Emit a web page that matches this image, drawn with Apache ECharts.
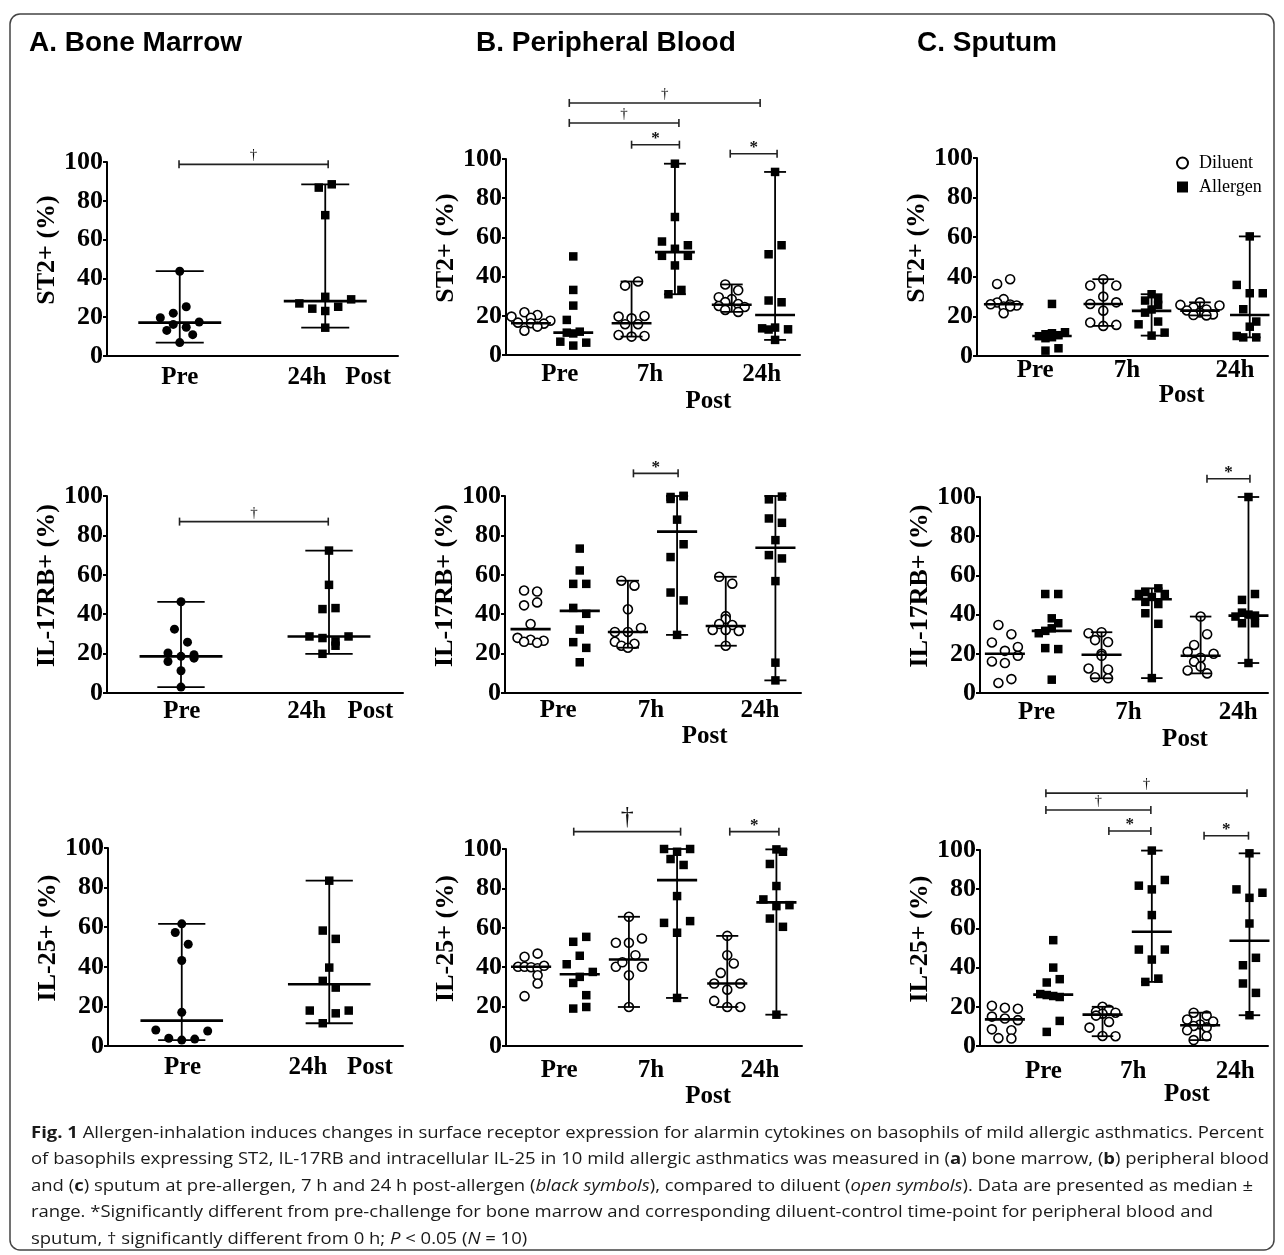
<!DOCTYPE html>
<html><head><meta charset="utf-8">
<script src="https://cdn.jsdelivr.net/npm/echarts@6/dist/echarts.min.js"></script>
<style>html,body{margin:0;padding:0;background:#fff}#c{width:1284px;height:1255px}</style>
</head><body><div id="c"></div>
<script>
// ---------- categories / tick labels ----------
const catA = ['Pre', '24h', 'Post'];
const catBC = ['Pre', '7h', '24h', 'Post'];
const yTicks = [0, 20, 40, 60, 80, 100];
const legendNames = ['Diluent', 'Allergen'];

// ---------- A. Bone marrow ----------
const bmST2Values = [[43.7, 19.7, 22.1, 25.4, 17.5, 16.3, 14.8, 13.2, 11.0, 6.9],
                     [88.5, 86.8, 72.6, 30.5, 27.1, 29.2, 24.4, 25.4, 23.2, 14.6]];
const bmST2Jitter = [[0, -3, -1, 1, 3, -1, 1, -2, 2, 0], [1, -1, 0, 0, -4, 4, -2, 2, 0, 0]];
const bmST2Median = [17.2, 28.3];
const bmST2Range = [[6.9, 43.7], [14.6, 88.5]];
const bmST2Sig = [[0.99, 3.04, 98.8, '†']];

const bmRBValues = [[46.3, 32.4, 25.8, 20.3, 18.6, 19.4, 16.0, 17.7, 11.3, 3.0],
                    [72.3, 54.9, 42.6, 43.1, 28.7, 27.9, 28.7, 26.2, 24.0, 19.9]];
const bmRBJitter = [[0, -1, 1, -2, 0, 2, -2, 2, 0, 0], [0, 0, -1, 1, -3, -1, 3, 1, 1, -1]];
const bmRBMedian = [18.6, 28.7];
const bmRBRange = [[3.0, 46.3], [19.9, 72.3]];
const bmRBSig = [[0.98, 2.99, 87, '†']];

const bm25Values = [[61.7, 57.3, 51.4, 43.2, 17.0, 8.1, 7.6, 3.9, 3.0, 3.5],
                    [83.5, 58.3, 54.1, 39.6, 32.9, 29.5, 17.9, 17.9, 16.5, 11.5]];
const bm25Jitter = [[0, -1, 1, 0, 0, -4, 4, -2, 0, 2], [0, -1, 1, 0, -1, 1, -3, 3, 1, -1]];
const bm25Median = [12.8, 31.2];
const bm25Range = [[3.0, 61.7], [11.5, 83.5]];
const bm25Sig = [];

// ---------- B. Peripheral blood (groups: Pre-D, Pre-A, 7h-D, 7h-A, 24h-D, 24h-A) ----------
const pbST2Values = [
  [21.8, 20.4, 19.6, 19, 17.5, 16.5, 16.2, 16, 14.5, 12.4],
  [50.3, 33.2, 25.2, 17.9, 11.9, 11.4, 6.8, 6.3, 4.8, 11],
  [35.4, 37.5, 19.6, 18.7, 19.9, 15.7, 15.7, 10.2, 9.4, 9.7],
  [97.6, 70.4, 57.9, 56, 54.2, 50.6, 50.6, 45.7, 31, 33.2],
  [36, 33, 29.5, 28.5, 27, 26, 25, 24.5, 23, 22],
  [93.4, 56, 51.4, 27.8, 26.9, 14, 13.6, 13.1, 13, 7.7]];
const pbST2Jitter = [
  [-1, 1, -3, 0, 3, -2, 0, 2, 1, -1],
  [0, 0, 0, -1, 1, -1, -2, 2, 0, 0],
  [-1, 1, -2, 0, 2, -1, 1, -2, 0, 2],
  [0, 0, -2, 2, 0, -2, 2, 0, -1, 1],
  [-1, 1, -2, 0, -1, 1, -2, 2, -1, 1],
  [0, 1, -1, -1, 1, 0, -2, 2, -1, 0]];
const pbST2Median = [16.2, 11.4, 16.2, 52.5, 25.6, 20.4];
const pbST2Range = [null, null, [9.4, 37.5], [31, 97.6], [22, 36], [7.7, 93.4]];
const pbST2Sig = [[1.27, 5.1, 128.6, '†'], [1.27, 3.47, 118.4, '†'], [2.52, 3.48, 107.3, '*'], [4.5, 5.44, 102.7, '*']];

const pbRBValues = [
  [52, 51.5, 46, 44.5, 35, 28, 27, 26.5, 26, 25.5],
  [73.3, 62.2, 55.4, 55.4, 43.2, 40.2, 32.2, 25.8, 22.9, 15.6],
  [57, 54.5, 42.5, 33, 31, 31, 26, 25, 24, 23],
  [100, 98.5, 99.5, 88, 75.5, 69, 51, 47, 29.5, 100],
  [59, 55.5, 39, 37.5, 35, 34.5, 32, 32, 31.5, 24],
  [98.3, 99.7, 88.6, 86.4, 77.6, 70, 68.3, 56.8, 15.4, 6.4]];
const pbRBJitter = [
  [-1, 1, 1, -1, 0, -2, 0, 2, -1, 1],
  [0, 0, -1, 1, -1, 1, 0, -1, 1, 0],
  [-1, 1, 0, 2, -2, 0, -2, 1, -1, 0],
  [1, -1, -1, 0, 1, -1, -1, 1, 0, 1],
  [-1, 1, 0, 0, -1, 1, -2, 0, 2, 0],
  [-1, 1, -1, 1, 0, -1, 1, 0, 0, 0]];
const pbRBMedian = [32.4, 41.7, 31, 81.9, 34, 73.7];
const pbRBRange = [null, null, [23, 57], [29.5, 100], [24, 59], [6.4, 100]];
const pbRBSig = [[2.56, 3.45, 111.5, '*']];

const pb25Values = [
  [45.3, 46.9, 40.2, 40.2, 40, 39.5, 40.7, 35.9, 31.7, 25.3],
  [55.4, 52.9, 45.8, 41.5, 37.6, 35.1, 32, 25.8, 19, 19.8],
  [65.6, 52.4, 52.4, 54.6, 40.2, 46.1, 40.2, 35.9, 42.5, 19.8],
  [100, 100, 98.6, 94.9, 91.9, 76.1, 62.5, 63.4, 57.5, 24.4],
  [55.9, 46.1, 41.9, 37.1, 31.7, 31.7, 28.6, 22.9, 19.8, 19.8],
  [99.8, 98.6, 92.4, 81.2, 74.4, 71, 71.5, 64.7, 60.5, 15.9]];
const pb25Jitter = [
  [-1, 1, -2, -1, 0, 1, 2, 1, 1, -1],
  [1, -1, 0, -2, 2, 0, -1, 1, -1, 1],
  [0, -2, 0, 2, -2, 1, 2, 0, -1, 0],
  [-2, 2, 0, -1, 1, 0, -2, 2, 0, 0],
  [0, 0, 1, -1, -2, 2, 0, -2, 0, 2],
  [0, 1, -1, 0, -2, 0, 2, -1, 1, 0]];
const pb25Median = [40.2, 36.4, 43.9, 84.2, 31.7, 72.9];
const pb25Range = [null, null, [19.8, 65.6], [24.4, 100], [19.8, 55.9], [15.9, 99.8]];
const pb25Sig = [[1.35, 3.48, 108.8, '†'], [4.46, 5.44, 108.8, '*']];

// ---------- C. Sputum ----------
const spST2Values = [
  [38.8, 36.4, 28.7, 27, 26.1, 26, 25.5, 25, 25, 21.6],
  [26.3, 12, 11.5, 11, 10.5, 10, 9.5, 9, 3.9, 2.7],
  [38.8, 35.6, 35.6, 30, 26.3, 27.1, 22.9, 16.9, 15.7, 15.2],
  [31.2, 28.7, 28, 25.8, 23.5, 21.9, 17.4, 16, 11.8, 10.3],
  [27.1, 25.8, 25.5, 24.5, 23.5, 23, 22, 21, 20.7, 20.5],
  [60.4, 35.9, 31.7, 31.7, 23.6, 17.4, 14.8, 10.1, 9.4, 9.4]];
const spST2Jitter = [
  [1, -1, 0, -1, -2, 1, 2, 0, 1, 0],
  [0, 2, 0, -1, 1, -2, 0, -1, 1, -1],
  [0, -2, 2, 0, -2, 2, 0, -2, 2, 0],
  [0, 1, -1, 1, 0, -1, 1, -2, 2, 0],
  [0, -3, 3, -1, 1, -2, 0, 2, -1, 1],
  [0, -2, 0, 2, -1, 1, 0, -2, -1, 1]];
const spST2Median = [26.1, 10.1, 26.3, 22.8, 22.9, 20.7];
const spST2Range = [null, null, [15.2, 38.8], [10.3, 31.2], [20.5, 27.1], [9.4, 60.4]];
const spST2Sig = [];

const spRBValues = [
  [34.7, 30, 25.8, 23.5, 21.5, 19, 16.1, 15.3, 7.1, 5.1],
  [50.5, 50.5, 38.1, 35.6, 33, 31.7, 30.5, 22.9, 22.4, 6.8],
  [31, 30.5, 27, 26, 20, 19, 12.5, 12, 8, 7.5],
  [53.4, 51.5, 50.5, 50.5, 49, 46.5, 45.4, 40.7, 35.3, 7.6],
  [39, 30, 24.5, 21, 20, 18, 16, 13.5, 11.5, 10],
  [100, 50.5, 47.5, 41, 40, 39.5, 39, 35.6, 35.6, 15.3]];
const spRBJitter = [
  [-1, 1, -2, 2, 0, 2, -2, 0, 1, -1],
  [-1, 1, 0, 1, 0, -1, -2, -1, 1, 0],
  [0, -2, -1, 1, 0, 0, -2, 1, -1, 1],
  [1, -1, -2, 2, 0, -1, 1, -1, 1, 0],
  [0, 1, -1, -2, 2, 0, -1, 0, -2, 1],
  [0, 1, -1, -1, 0, 1, -2, -1, 1, 0]];
const spRBMedian = [20, 31.7, 19.5, 47.8, 19, 39.5];
const spRBRange = [null, null, [7.5, 31], [7.6, 53.4], [10, 39], [15.3, 100]];
const spRBSig = [[4.65, 5.53, 109.3, '*']];

const sp25Values = [
  [20.5, 19.5, 19, 15, 14, 13.2, 8.5, 8, 4, 3.8],
  [54, 40, 34.1, 32.4, 26.5, 26, 25.5, 25, 12.8, 7.2],
  [20, 18.5, 17.5, 17, 16.5, 15.5, 12.3, 9.4, 5.1, 5],
  [99.7, 84.7, 81.8, 79.9, 66.8, 49.2, 49.2, 44.1, 34.4, 32.7],
  [17, 15.5, 13.5, 12.5, 11, 10.2, 9.5, 8, 5, 3],
  [98.3, 79.9, 78.2, 75.6, 62.5, 45, 41.2, 31.9, 27.1, 15.7]];
const sp25Jitter = [
  [-2, 0, 2, -2, 0, 2, -2, 1, -1, 1],
  [0, 0, 1, -1, -2, -1, 0, 1, 1, -1],
  [0, 1, -1, 2, 0, -1, 1, -2, 0, 2],
  [0, 2, -2, 0, 0, -2, 2, 0, 1, -1],
  [-1, 1, -2, 2, 0, -1, 1, -2, 1, -1],
  [0, -2, 2, 0, 0, 1, -1, -1, 1, 0]];
const sp25Median = [13.6, 26.2, 16, 58.3, 10.6, 53.7];
const sp25Range = [null, null, [5, 20], [32.7, 99.7], [3, 17], [15.7, 98.3]];
const sp25Sig = [[1.35, 5.47, 129, '†'], [1.35, 3.5, 120.4, '†'], [2.64, 3.5, 109.7, '*'], [4.59, 5.5, 107.3, '*']];

// ---------- layout (positions / sizes / styles) ----------
const SERIF = '"Liberation Serif","Times New Roman",serif';
const SANS = '"Liberation Sans",Arial,sans-serif';
const panels = [
  {kind:'A', yName:'ST2+ (%)', v:bmST2Values, j:bmST2Jitter, m:bmST2Median, r:bmST2Range, s:bmST2Sig,
   grid:[107,162,291,194], xMax:4, pos:[1,3], slot:0.089, medHalf:0.57, capHalf:0.33, labelX:[1.0,2.75,3.59], labelDy:[22,22,22]},
  {kind:'A', yName:'IL-17RB+ (%)', v:bmRBValues, j:bmRBJitter, m:bmRBMedian, r:bmRBRange, s:bmRBSig,
   grid:[107,496,296,197], xMax:4, pos:[1,3], slot:0.088, medHalf:0.56, capHalf:0.32, labelX:[1.01,2.7,3.56], labelDy:[19,19,19]},
  {kind:'A', yName:'IL-25+ (%)', v:bm25Values, j:bm25Jitter, m:bm25Median, r:bm25Range, s:bm25Sig,
   grid:[108,848,295,198], xMax:4, pos:[1,3], slot:0.088, medHalf:0.56, capHalf:0.32, labelX:[1.01,2.71,3.55], labelDy:[22,22,22]},
  {kind:'B', yName:'ST2+ (%)', v:pbST2Values, j:pbST2Jitter, m:pbST2Median, r:pbST2Range, s:pbST2Sig,
   grid:[506,159,294,196], xMax:5.9, pos:[0.5,1.35,2.52,3.39,4.53,5.4], slot:0.13, medHalf:0.4, capHalf:0.22, labelX:[1.08,2.89,5.13,4.06], labelDy:[20,20,20,47]},
  {kind:'B', yName:'IL-17RB+ (%)', v:pbRBValues, j:pbRBJitter, m:pbRBMedian, r:pbRBRange, s:pbRBSig,
   grid:[505,496,296,197], xMax:5.9, pos:[0.51,1.49,2.45,3.43,4.4,5.39], slot:0.13, medHalf:0.4, capHalf:0.22, labelX:[1.06,2.91,5.08,3.98], labelDy:[18,18,18,44]},
  {kind:'B', yName:'IL-25+ (%)', v:pb25Values, j:pb25Jitter, m:pb25Median, r:pb25Range, s:pb25Sig, bigDagger:true,
   grid:[506,849,296,197], xMax:5.9, pos:[0.5,1.47,2.45,3.41,4.41,5.39], slot:0.13, medHalf:0.4, capHalf:0.22, labelX:[1.06,2.89,5.06,4.03], labelDy:[25,25,25,51]},
  {kind:'C', yName:'ST2+ (%)', v:spST2Values, j:spST2Jitter, m:spST2Median, r:spST2Range, s:spST2Sig,
   grid:[977,158,291,198], xMax:5.9, pos:[0.54,1.52,2.56,3.54,4.52,5.53], slot:0.132, medHalf:0.4, capHalf:0.22, labelX:[1.18,3.04,5.23,4.15], labelDy:[15,15,15,40]},
  {kind:'C', yName:'IL-17RB+ (%)', v:spRBValues, j:spRBJitter, m:spRBMedian, r:spRBRange, s:spRBSig,
   grid:[980,497,288,196], xMax:5.9, pos:[0.51,1.47,2.49,3.52,4.52,5.5], slot:0.133, medHalf:0.41, capHalf:0.22, labelX:[1.16,3.04,5.29,4.2], labelDy:[20,20,20,47]},
  {kind:'C', yName:'IL-25+ (%)', v:sp25Values, j:sp25Jitter, m:sp25Median, r:sp25Range, s:sp25Sig,
   grid:[980,850,288,196], xMax:5.9, pos:[0.51,1.5,2.51,3.52,4.51,5.52], slot:0.133, medHalf:0.41, capHalf:0.22, labelX:[1.3,3.14,5.23,4.24], labelDy:[26,26,26,49]}
];

const grids = [], xAxes = [], yAxes = [], series = [];
const BLACK = '#000';

panels.forEach((p, k) => {
  grids.push({left:p.grid[0], top:p.grid[1], width:p.grid[2], height:p.grid[3], containLabel:false});
  xAxes.push({gridIndex:k, type:'value', min:0, max:p.xMax, interval:1,
    axisLine:{show:true, onZero:false, lineStyle:{color:BLACK, width:2}}, axisTick:{show:false}, axisLabel:{show:false}, splitLine:{show:false}});
  yAxes.push({gridIndex:k, type:'value', min:yTicks[0], max:yTicks[yTicks.length-1], interval:yTicks[1]-yTicks[0],
    name:p.yName, nameLocation:'middle', nameGap:p.kind==='C'?38:44,
    nameTextStyle:{fontFamily:SERIF, fontWeight:'bold', fontSize:26, color:BLACK, padding:[0,0,0,18]},
    axisLine:{show:true, lineStyle:{color:BLACK, width:2}},
    axisTick:{show:true, length:4, lineStyle:{color:BLACK, width:2}},
    axisLabel:{fontFamily:SERIF, fontWeight:'bold', fontSize:26, color:BLACK, margin:4},
    splitLine:{show:false}});

  // scatter points
  const groupsBy = p.kind === 'A' ? [[0],[1]] : [[0,2,4],[1,3,5]];
  groupsBy.forEach((gs, t) => {
    const data = [];
    gs.forEach(g => p.v[g].forEach((val, i) => data.push([p.pos[g] + p.j[g][i]*p.slot, val])));
    const isSquare = t === 1;
    const open = p.kind !== 'A' && t === 0;
    series.push({
      type:'scatter', name: p.kind === 'A' ? (t===0?'Pre':'24h Post') : legendNames[t],
      xAxisIndex:k, yAxisIndex:k, data, z:2, silent:true,
      symbol: isSquare ? 'rect' : 'circle', symbolSize: isSquare ? 8.5 : 9,
      itemStyle: open ? {color:'#fff', borderColor:BLACK, borderWidth:1.6, opacity:1} : {color:BLACK, borderWidth:0, opacity:1}
    });
  });

  // median + range
  series.push({
    type:'custom', xAxisIndex:k, yAxisIndex:k, z:4, silent:true, clip:false,
    data: p.m.map((med, g) => [p.pos[g], med]),
    encode:{x:0, y:1},
    renderItem: (params, api) => {
      const g = params.dataIndex, x = p.pos[g], c = api.coord;
      const ch = [];
      const L = (a, b, w) => ch.push({type:'line', shape:{x1:a[0], y1:a[1], x2:b[0], y2:b[1]}, style:{stroke:BLACK, lineWidth:w}});
      L(c([x - p.medHalf, p.m[g]]), c([x + p.medHalf, p.m[g]]), 2.6);
      const rg = p.r[g];
      if (rg) {
        L(c([x, rg[0]]), c([x, rg[1]]), 1.8);
        L(c([x - p.capHalf, rg[1]]), c([x + p.capHalf, rg[1]]), 1.8);
        L(c([x - p.capHalf, rg[0]]), c([x + p.capHalf, rg[0]]), 1.8);
      }
      return {type:'group', children:ch};
    }
  });

  // significance brackets
  if (p.s.length) series.push({
    type:'custom', xAxisIndex:k, yAxisIndex:k, z:4, silent:true, clip:false,
    data: p.s.map(s => [s[0], s[1], s[2]]),
    encode:{x:[0,1], y:2},
    renderItem: (params, api) => {
      const s = p.s[params.dataIndex], c = api.coord;
      const a = c([s[0], s[2]]), b = c([s[1], s[2]]);
      const st = {stroke:'#222', lineWidth:1.6};
      const big = p.bigDagger && s[3] === '†';
      return {type:'group', children:[
        {type:'line', shape:{x1:a[0], y1:a[1], x2:b[0], y2:b[1]}, style:st},
        {type:'line', shape:{x1:a[0], y1:a[1]-4, x2:a[0], y2:a[1]+4}, style:st},
        {type:'line', shape:{x1:b[0], y1:b[1]-4, x2:b[0], y2:b[1]+4}, style:st},
        {type:'text', style:{text:s[3], x:(a[0]+b[0])/2, y:a[1] - (big ? 14 : (s[3]==='*' ? 6 : 9)),
          align:'center', verticalAlign:'middle', fill:'#111', fontFamily:SERIF,
          fontSize: big ? 26 : (s[3]==='*' ? 17 : 15), fontWeight: s[3]==='*' ? 'bold' : 'normal'}}
      ]};
    }
  });

  // category labels under the axis
  const cats = p.kind === 'A' ? catA : catBC;
  series.push({
    type:'custom', xAxisIndex:k, yAxisIndex:k, z:4, silent:true, clip:false,
    data: cats.map((c, i) => [p.labelX[i], 0]),
    encode:{x:0, y:1},
    renderItem: (params, api) => {
      const i = params.dataIndex;
      const pt = api.coord([p.labelX[i], 0]);
      return {type:'text', style:{text:cats[i], x:pt[0], y:pt[1] + p.labelDy[i], align:'center', verticalAlign:'middle',
        fill:BLACK, fontFamily:SERIF, fontWeight:'bold', fontSize:25}};
    }
  });
});

const CAPF = '"Open Sans",sans-serif';
const capRich = {
  b:{fontFamily:CAPF, fontSize:16, fontWeight:'bold', fill:'#1a1a1a'},
  i:{fontFamily:CAPF, fontSize:16, fontStyle:'italic', fill:'#1a1a1a'}
};
const captionLines = [
  '{b|Fig. 1} Allergen-inhalation induces changes in surface receptor expression for alarmin cytokines on basophils of mild allergic asthmatics. Percent',
  'of basophils expressing ST2, IL-17RB and intracellular IL-25 in 10 mild allergic asthmatics was measured in ({b|a}) bone marrow, ({b|b}) peripheral blood',
  'and ({b|c}) sputum at pre-allergen, 7 h and 24 h post-allergen ({i|black symbols}), compared to diluent ({i|open symbols}). Data are presented as median ±',
  'range. *Significantly different from pre-challenge for bone marrow and corresponding diluent-control time-point for peripheral blood and',
  'sputum, † significantly different from 0 h; {i|P} < 0.05 ({i|N} = 10)'
];
const graphics = [
  {type:'rect', shape:{x:10, y:14, width:1264, height:1236, r:10}, style:{fill:'none', stroke:'#444', lineWidth:1.5}, silent:true},
  {type:'text', x:29, y:43, style:{text:'A. Bone Marrow', fontFamily:SANS, fontWeight:'bold', fontSize:28, fill:BLACK, verticalAlign:'middle'}},
  {type:'text', x:476, y:43, style:{text:'B. Peripheral Blood', fontFamily:SANS, fontWeight:'bold', fontSize:28, fill:BLACK, verticalAlign:'middle'}},
  {type:'text', x:917, y:43, style:{text:'C. Sputum', fontFamily:SANS, fontWeight:'bold', fontSize:28, fill:BLACK, verticalAlign:'middle'}}
];
captionLines.forEach((t, i) => graphics.push({type:'text', x:31, y:1133 + i*26.5, scaleX:1.155, scaleY:1,
  style:{text:t, verticalAlign:'middle', rich:capRich, fontFamily:CAPF, fontSize:16, fill:'#1a1a1a'}}));

const chart = echarts.init(document.getElementById('c'), null, {renderer:'canvas'});
chart.setOption({
  animation:false,
  backgroundColor:'#fff',
  grid:grids, xAxis:xAxes, yAxis:yAxes, series,
  legend:{data:legendNames, orient:'vertical', left:1171, top:149, itemWidth:11, itemHeight:11, itemGap:6,
    selectedMode:false, textStyle:{fontFamily:SERIF, fontSize:18, color:BLACK, padding:[0,0,0,6]}},
  graphic:graphics
});
</script></body></html>
